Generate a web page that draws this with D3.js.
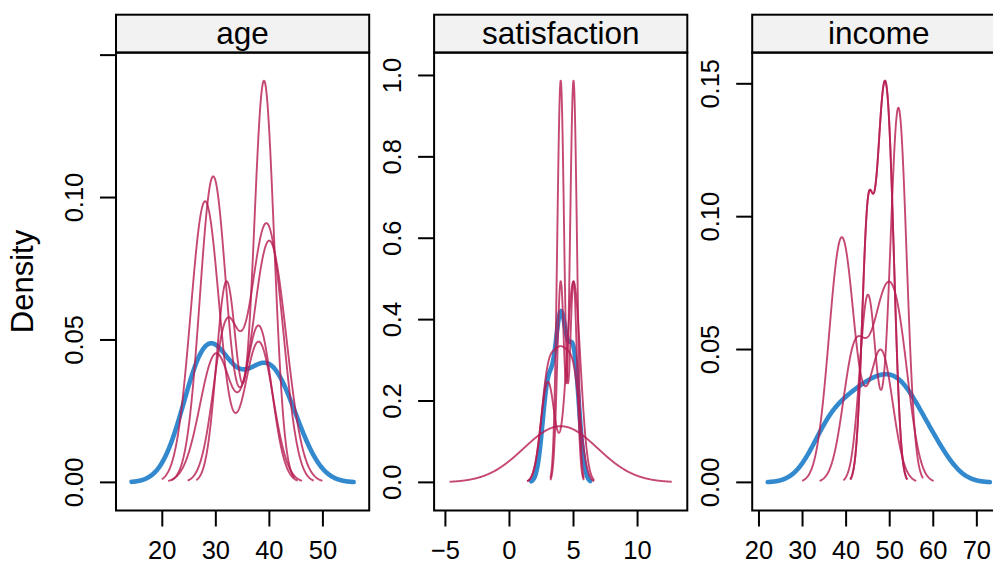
<!DOCTYPE html>
<html>
<head>
<meta charset="utf-8">
<script src="https://cdn.jsdelivr.net/npm/d3@7"></script>
<style>
  html, body { margin: 0; padding: 0; background: #ffffff; }
  svg { display: block; font-family: "Liberation Sans", Arial, Helvetica, sans-serif; }
</style>
</head>
<body>
<svg id="chart" width="993" height="562"></svg>
<script>
// Variables, one panel each
const variables = ["age", "satisfaction", "income"];

// Observed (complete) values of each variable
const ageObserved = [25.8, 27, 29, 30, 33, 38, 39, 41, 44.2];
const satisfactionObserved = [3, 3, 3, 4, 4, 4, 4, 4, 5, 5, 5, 5];
const incomeObserved = [35, 38, 42, 45, 47, 51, 52, 55, 60];

// Imputed values, one row per imputation
const ageImputed = [
  [32, 39, 39],
  [29, 30, 38],
  [28, 28, 38],
  [32, 38, 41],
  [30, 39, 41]
];
const satisfactionImputed = [
  [4, 4, 5],
  [4, 5, 5],
  [3, 5, 5],
  [3, 4, 5],
  [4, 4, 4]
];
const incomeImputed = [
  [45, 48, 50],
  [45, 52, 52],
  [38, 40, 48],
  [42, 48, 52],
  [45, 48, 50]
];

// Axis ticks and their labels
const ageXTicks = [20, 30, 40, 50];
const ageXLabels = ["20", "30", "40", "50"];
const satisfactionXTicks = [-5, 0, 5, 10];
const satisfactionXLabels = ["\u22125", "0", "5", "10"];
const incomeXTicks = [20, 30, 40, 50, 60, 70];
const incomeXLabels = ["20", "30", "40", "50", "60", "70"];

const ageYTicks = [0, 0.05, 0.10, 0.15];
const ageYLabels = ["0.00", "0.05", "0.10", ""];
const satisfactionYTicks = [0, 0.2, 0.4, 0.6, 0.8, 1.0];
const satisfactionYLabels = ["0.0", "0.2", "0.4", "0.6", "0.8", "1.0"];
const incomeYTicks = [0, 0.05, 0.10, 0.15];
const incomeYLabels = ["0.00", "0.05", "0.10", "0.15"];

const yTitle = "Density";

// ---- kernel density estimate (Gaussian kernel, nrd0 bandwidth, cut = 3) ----
function bwNrd0(x) {
  const s = x.slice().sort(d3.ascending);
  const hi = d3.deviation(x) || 0;
  let lo = Math.min(hi, (d3.quantileSorted(s, 0.75) - d3.quantileSorted(s, 0.25)) / 1.34);
  if (!lo) lo = hi || Math.abs(x[0]) || 1;
  return 0.9 * lo * Math.pow(x.length, -0.2);
}

function density(x, n = 512) {
  const bw = bwNrd0(x);
  const lo = d3.min(x) - 3 * bw, hi = d3.max(x) + 3 * bw;
  const k = 1 / (x.length * bw * Math.sqrt(2 * Math.PI));
  return d3.range(n).map(i => {
    const t = lo + (hi - lo) * i / (n - 1);
    let s = 0;
    for (const v of x) { const z = (t - v) / bw; s += Math.exp(-0.5 * z * z); }
    return [t, s * k];
  });
}

const panels = [
  { name: variables[0], obs: ageObserved, imp: ageImputed,
    xTicks: ageXTicks, xLabels: ageXLabels, yTicks: ageYTicks, yLabels: ageYLabels },
  { name: variables[1], obs: satisfactionObserved, imp: satisfactionImputed,
    xTicks: satisfactionXTicks, xLabels: satisfactionXLabels, yTicks: satisfactionYTicks, yLabels: satisfactionYLabels },
  { name: variables[2], obs: incomeObserved, imp: incomeImputed,
    xTicks: incomeXTicks, xLabels: incomeXLabels, yTicks: incomeYTicks, yLabels: incomeYLabels }
];

// ---- layout ----
const panelLeft0 = 116, panelStep = 318.1, panelW = 253.2;
const stripTop = 14.7, panelTop = 52.6, panelBottom = 510.5;
const tickLen = 16;
const blue = "#006CC2", red = "#B61A51";

const svg = d3.select("#chart");

panels.forEach((p, i) => {
  const x0 = panelLeft0 + i * panelStep;
  const obsCurve = density(p.obs);
  const impCurves = p.imp.map(v => density(v));
  const all = [obsCurve, ...impCurves];

  // lattice-style limits: data range padded by 7% on each side
  const xmin = d3.min(all, c => c[0][0]), xmax = d3.max(all, c => c[c.length - 1][0]);
  const ymax = d3.max(all, c => d3.max(c, d => d[1]));
  const xpad = 0.07 * (xmax - xmin), ypad = 0.07 * ymax;

  const x = d3.scaleLinear().domain([xmin - xpad, xmax + xpad]).range([x0, x0 + panelW]);
  const y = d3.scaleLinear().domain([-ypad, ymax + ypad]).range([panelBottom, panelTop]);

  const g = svg.append("g");

  // strip
  g.append("rect")
    .attr("x", x0).attr("y", stripTop)
    .attr("width", panelW).attr("height", panelTop - stripTop)
    .attr("fill", "#F2F2F2").attr("stroke", "#000").attr("stroke-width", 2);
  g.append("text")
    .attr("x", x0 + panelW / 2).attr("y", 44)
    .attr("text-anchor", "middle")
    .attr("font-size", 31.5).attr("fill", "#000")
    .text(p.name);

  // curves: observed first, imputations on top
  const line = d3.line().x(d => x(d[0])).y(d => y(d[1]));
  g.append("path")
    .attr("d", line(obsCurve))
    .attr("fill", "none").attr("stroke", blue).attr("stroke-opacity", 0.8)
    .attr("stroke-width", 4.6).attr("stroke-linejoin", "round").attr("stroke-linecap", "round");
  impCurves.forEach(c => {
    g.append("path")
      .attr("d", line(c))
      .attr("fill", "none").attr("stroke", red).attr("stroke-opacity", 0.8)
      .attr("stroke-width", 1.9).attr("stroke-linejoin", "round");
  });

  // panel border
  g.append("rect")
    .attr("x", x0).attr("y", panelTop)
    .attr("width", panelW).attr("height", panelBottom - panelTop)
    .attr("fill", "none").attr("stroke", "#000").attr("stroke-width", 2);

  // bottom axis
  const xa = g.append("g");
  p.xTicks.forEach((t, j) => {
    xa.append("line")
      .attr("x1", x(t)).attr("x2", x(t))
      .attr("y1", panelBottom).attr("y2", panelBottom + tickLen)
      .attr("stroke", "#000").attr("stroke-width", 2);
    xa.append("text")
      .attr("x", x(t)).attr("y", 558.5)
      .attr("text-anchor", "middle").attr("font-size", 25.5).attr("fill", "#000")
      .text(p.xLabels[j]);
  });

  // left axis
  const ya = g.append("g");
  p.yTicks.forEach((t, j) => {
    ya.append("line")
      .attr("x1", x0 - tickLen).attr("x2", x0)
      .attr("y1", y(t)).attr("y2", y(t))
      .attr("stroke", "#000").attr("stroke-width", 2);
    if (p.yLabels[j]) {
      ya.append("text")
        .attr("transform", `translate(${x0 - 33},${y(t)}) rotate(-90)`)
        .attr("text-anchor", "middle").attr("font-size", 25.5).attr("fill", "#000")
        .text(p.yLabels[j]);
    }
  });
});

// y-axis title
svg.append("text")
  .attr("transform", `translate(32.7,${(panelTop + panelBottom) / 2}) rotate(-90)`)
  .attr("text-anchor", "middle").attr("font-size", 31).attr("fill", "#000")
  .text(yTitle);
</script>
</body>
</html>
